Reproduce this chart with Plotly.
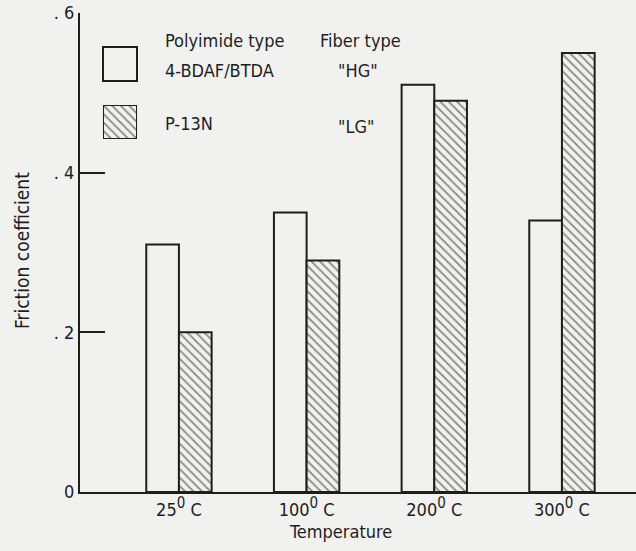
import plotly.graph_objects as go

# ---- data ----
SUP0 = "<sup><span style='font-size:15px'>0</span></sup>"
temperatures = ["25" + SUP0 + " C", "100" + SUP0 + " C", "200" + SUP0 + " C", "300" + SUP0 + " C"]
bdaf_btda_hg = [0.31, 0.35, 0.51, 0.34]
p13n_lg = [0.20, 0.29, 0.49, 0.55]
y_tickvals = [0, 0.2, 0.4, 0.6]
y_ticktext = ["0", ". 2", ". 4", ". 6"]

BG = "#f1f1ef"
INK = "#1e1e1e"
FONT = "DejaVu Sans Condensed, Roboto, sans-serif"

W, H = 636, 551
L, R, T, B = 80, 0, 13, 59
PW, PH = W - L - R, H - T - B

def px(x):
    return (x - L) / PW

def py(y):
    return (H - B - y) / PH

HATCH = dict(shape="\\", fgcolor=INK, bgcolor=BG, size=6, solidity=0.3)

fig = go.Figure()
fig.add_trace(go.Bar(
    x=temperatures, y=bdaf_btda_hg, name="4-BDAF/BTDA",
    marker=dict(color=BG, line=dict(color=INK, width=2)),
    showlegend=False,
))
fig.add_trace(go.Bar(
    x=temperatures, y=p13n_lg, name="P-13N",
    marker=dict(color=BG, line=dict(color=INK, width=2), pattern=HATCH),
    showlegend=False,
))

# legend swatch for hatched series (overlay axis)
fig.add_trace(go.Bar(
    x=[0], y=[1], xaxis="x2", yaxis="y2", width=[1],
    marker=dict(color=BG, line=dict(color=INK, width=2), pattern=HATCH),
    showlegend=False, hoverinfo="skip",
))

fig.update_layout(
    width=W, height=H,
    margin=dict(l=L, r=R, t=T, b=B),
    paper_bgcolor=BG, plot_bgcolor=BG,
    barmode="group", bargap=0.488, bargroupgap=0,
    font=dict(family=FONT, size=18, color=INK),
    xaxis=dict(
        range=[-0.775, 3.58], showline=True, linecolor=INK, linewidth=2,
        showgrid=False, zeroline=False, ticks="",
        tickfont=dict(size=18),
    ),
    yaxis=dict(
        range=[0, 0.6], tickvals=y_tickvals, ticktext=y_ticktext,
        showline=True, linecolor=INK, linewidth=2, showgrid=False, zeroline=False,
        ticks="inside", ticklen=25, tickwidth=2, tickcolor=INK,
        tickfont=dict(size=18),
    ),
    xaxis2=dict(domain=[px(103), px(137)], range=[-0.5, 0.5], visible=False, anchor="y2"),
    yaxis2=dict(domain=[py(139), py(105)], range=[0, 1], visible=False, anchor="x2"),
)

# white legend swatch
fig.add_shape(type="rect", xref="paper", yref="paper",
              x0=px(103), x1=px(137), y0=py(81), y1=py(47),
              line=dict(color=INK, width=2), fillcolor=BG)

def note(text, x, y, **kw):
    fig.add_annotation(text=text, xref="paper", yref="paper", x=px(x), y=py(y),
                       showarrow=False, xanchor=kw.pop("xanchor", "left"),
                       yanchor="middle", font=dict(size=kw.pop("size", 18)), **kw)

note("Polyimide type", 163, 40)
note("4-BDAF/BTDA", 163, 70)
note("P-13N", 163, 123)
note("Fiber type", 318, 40)
note('"HG"', 336, 70)
note('"LG"', 336, 126)
note("Temperature", 340, 531, xanchor="center")
note("Friction coefficient", 22, 251, xanchor="center", textangle=-90, size=19)

fig.write_html("out.html")
